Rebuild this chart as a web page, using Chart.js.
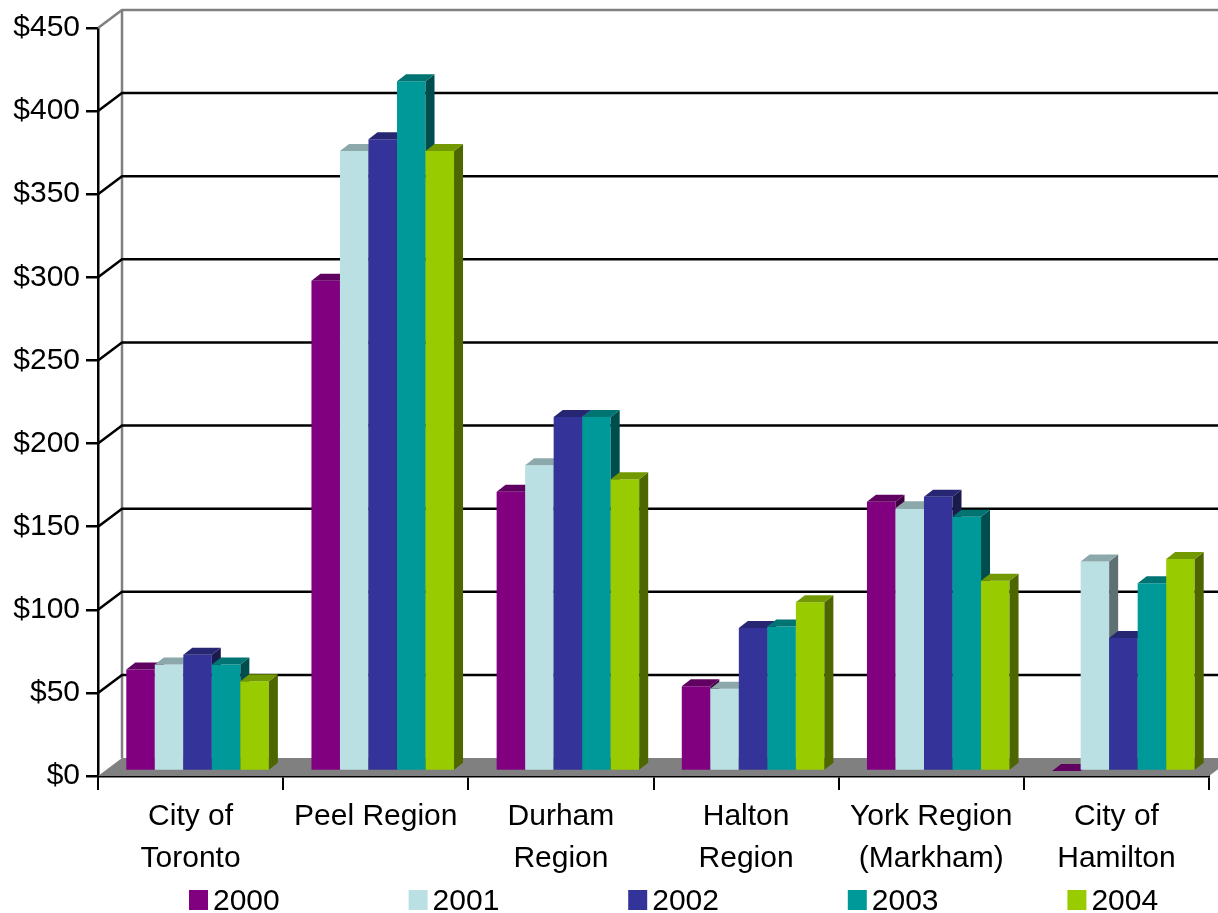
<!DOCTYPE html>
<html>
<head>
<meta charset="utf-8">
<script src="https://cdn.jsdelivr.net/npm/chart.js@4/dist/chart.umd.min.js"></script>
<style>
  html, body { margin: 0; padding: 0; background: #ffffff; }
  #wrap { width: 1218px; height: 913px; }
</style>
</head>
<body>
<div id="wrap"><canvas id="c" width="1218" height="913"></canvas></div>
<script>
// ---- data ----
const categories = [
  ['City of', 'Toronto'],
  ['Peel Region'],
  ['Durham', 'Region'],
  ['Halton', 'Region'],
  ['York Region', '(Markham)'],
  ['City of', 'Hamilton']
];
const seriesLabels = ['2000', '2001', '2002', '2003', '2004'];
const values2000 = [61, 295, 168, 51, 162, 0];
const values2001 = [64, 373, 184, 49.5, 158, 126];
const values2002 = [70, 380, 213, 86, 165, 80];
const values2003 = [64, 415, 213, 87, 153, 113];
const values2004 = [54, 373, 175.5, 101.5, 114.5, 127.5];
const seriesColors = ['#800080', '#BBE0E3', '#333399', '#009999', '#99CC00'];
const yTickValues = [0, 50, 100, 150, 200, 250, 300, 350, 400, 450];

// ---- 3D look ----
const WALL_DX = 24, WALL_DY = -18;   // depth of back wall
const BAR_DX = 7, BAR_DY = -5;       // bar front plane offset
const BD_X = 9, BD_Y = -7;           // bar depth
const FONT = "'Liberation Sans', Arial, sans-serif";

function shade(hex, f) {
  const n = parseInt(hex.slice(1), 16);
  const r = Math.round(((n >> 16) & 255) * f);
  const g = Math.round(((n >> 8) & 255) * f);
  const b = Math.round((n & 255) * f);
  return 'rgb(' + r + ',' + g + ',' + b + ')';
}
function poly(ctx, pts, fill) {
  ctx.beginPath();
  ctx.moveTo(pts[0][0], pts[0][1]);
  for (let k = 1; k < pts.length; k++) ctx.lineTo(pts[k][0], pts[k][1]);
  ctx.closePath();
  ctx.fillStyle = fill;
  ctx.fill();
}

const threeD = {
  id: 'threeD',
  beforeDatasetsDraw(chart) {
    const ctx = chart.ctx, a = chart.chartArea, ys = chart.scales.y;
    const yMax = yTickValues[yTickValues.length - 1];
    ctx.save();
    // floor
    poly(ctx, [[a.left, a.bottom], [a.right, a.bottom], [a.right + WALL_DX, a.bottom + WALL_DY], [a.left + WALL_DX, a.bottom + WALL_DY]], '#808080');
    // back wall left edge
    ctx.lineWidth = 2.5;
    ctx.strokeStyle = '#808080';
    ctx.beginPath();
    ctx.moveTo(a.left + WALL_DX, a.top + WALL_DY);
    ctx.lineTo(a.left + WALL_DX, a.bottom + WALL_DY);
    ctx.stroke();
    // gridlines on side + back wall
    yTickValues.forEach(v => {
      if (v === 0) return;
      const py = ys.getPixelForValue(v);
      ctx.strokeStyle = v === yMax ? '#808080' : '#000000';
      ctx.beginPath();
      ctx.moveTo(a.left, py);
      ctx.lineTo(a.left + WALL_DX, py + WALL_DY);
      ctx.lineTo(chart.width + 40, py + WALL_DY);
      ctx.stroke();
    });
    // bars: left-to-right within every category
    ctx.translate(BAR_DX, BAR_DY);
    const n = categories.length;
    for (let j = 0; j < n; j++) {
      for (let i = 0; i < chart.data.datasets.length; i++) {
        const el = chart.getDatasetMeta(i).data[j];
        const col = chart.data.datasets[i].backgroundColor;
        const p = el.getProps(['x', 'y', 'base', 'width'], true);
        const l = p.x - p.width / 2, r = p.x + p.width / 2;
        el.draw(ctx);
        poly(ctx, [[r, p.y], [r + BD_X, p.y + BD_Y], [r + BD_X, p.base + BD_Y], [r, p.base]], shade(col, 0.5));
        poly(ctx, [[l, p.y], [r, p.y], [r + BD_X, p.y + BD_Y], [l + BD_X, p.y + BD_Y]], shade(col, 0.75));
      }
    }
    ctx.restore();
    return false;
  },
  afterDraw(chart) {
    const ctx = chart.ctx;
    ctx.save();
    ctx.font = '30px ' + FONT;
    ctx.textBaseline = 'alphabetic';
    ctx.fillStyle = '#000';
    chart.data.datasets.forEach((ds, i) => {
      const x0 = 189 + i * 219.6;
      ctx.fillStyle = ds.backgroundColor;
      ctx.fillRect(x0, 890, 19, 20);
      ctx.fillStyle = '#000';
      ctx.fillText(ds.label, x0 + 24, 910);
    });
    ctx.restore();
  }
};

const allValues = [values2000, values2001, values2002, values2003, values2004];

Chart.defaults.font.family = FONT;

new Chart(document.getElementById('c'), {
  type: 'bar',
  data: {
    labels: categories,
    datasets: seriesLabels.map((lab, i) => ({
      label: lab,
      data: allValues[i],
      backgroundColor: seriesColors[i],
      borderWidth: 0,
      categoryPercentage: 0.77,
      barPercentage: 1.0
    }))
  },
  options: {
    responsive: false,
    animation: false,
    layout: { padding: { top: 28, right: 9, left: 0, bottom: 0 } },
    plugins: {
      legend: { display: false },
      tooltip: { enabled: false }
    },
    scales: {
      x: {
        z: 1,
        offset: true,
        grid: { offset: true, drawOnChartArea: false, drawTicks: true, tickLength: 14, color: '#000', lineWidth: 2 },
        border: { display: true, color: '#000', width: 2.5 },
        ticks: { color: '#000', font: { size: 30, lineHeight: 1.4 }, padding: 6, maxRotation: 0, autoSkip: false },
        afterFit(s) { s.height = 137; }
      },
      y: {
        z: 1,
        min: 0,
        max: 450,
        afterBuildTicks(s) { s.ticks = yTickValues.map(v => ({ value: v })); },
        ticks: { color: '#000', font: { size: 30 }, padding: 6, callback: v => '$' + v },
        grid: { drawOnChartArea: false, drawTicks: true, tickLength: 12, color: '#000', lineWidth: 2.5 },
        border: { display: true, color: '#000', width: 2.5 },
        afterFit(s) { s.width = 98; }
      }
    }
  },
  plugins: [threeD]
});
</script>
</body>
</html>
